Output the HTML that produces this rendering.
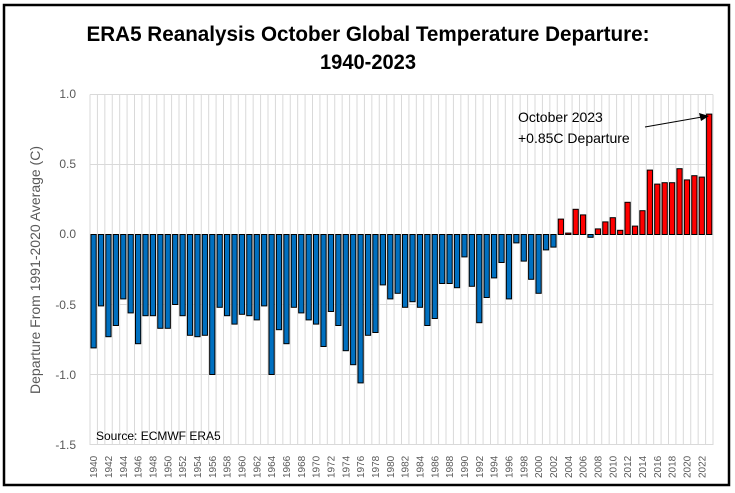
<!DOCTYPE html>
<html><head><meta charset="utf-8"><style>
html,body{margin:0;padding:0;background:#fff;}
svg{display:block;}
</style></head><body>
<svg id="c" width="735" height="493" xmlns="http://www.w3.org/2000/svg">
<rect x="0" y="0" width="735" height="493" fill="#fff"/>
<rect x="4" y="5" width="725" height="480" fill="none" stroke="#000" stroke-width="2.5"/>
<text x="368" y="41" text-anchor="middle" font-family="Liberation Sans Narrow, Liberation Sans, sans-serif" font-weight="bold" font-size="21" textLength="563" lengthAdjust="spacingAndGlyphs">ERA5 Reanalysis October Global Temperature Departure:</text>
<text x="368" y="69" text-anchor="middle" font-family="Liberation Sans Narrow, Liberation Sans, sans-serif" font-weight="bold" font-size="21" textLength="96" lengthAdjust="spacingAndGlyphs">1940-2023</text>
<g id="grid"></g>
<g id="bars"></g>
<g font-family="Liberation Sans, sans-serif" font-size="12" fill="#595959" text-anchor="end">
<text x="76" y="98">1.0</text>
<text x="76" y="168">0.5</text>
<text x="76" y="238">0.0</text>
<text x="76" y="309">-0.5</text>
<text x="76" y="379">-1.0</text>
<text x="76" y="449">-1.5</text>
</g>
<text transform="translate(40,270) rotate(-90)" text-anchor="middle" font-family="Liberation Sans, sans-serif" font-size="14" fill="#595959">Departure From 1991-2020 Average (C)</text>
<text x="96" y="440" font-family="Liberation Sans, sans-serif" font-size="12" fill="#000">Source: ECMWF ERA5</text>
<text x="518" y="122" font-family="Liberation Sans, sans-serif" font-size="14" fill="#000">October 2023</text>
<text x="518" y="143" font-family="Liberation Sans, sans-serif" font-size="14" fill="#000">+0.85C Departure</text>
<line x1="645" y1="127" x2="702" y2="117" stroke="#000" stroke-width="1"/>
<polygon points="709,116 699,113 701,121" fill="#000"/>
<g id="years" font-family="Liberation Sans, sans-serif" font-size="10" fill="#595959"></g>
</svg>
<script>
(function(){
var v=[-0.81,-0.51,-0.73,-0.65,-0.46,-0.56,-0.78,-0.58,-0.58,-0.67,-0.67,-0.50,-0.58,-0.72,-0.73,-0.72,-1.0,-0.52,-0.58,-0.64,-0.57,-0.58,-0.61,-0.51,-1.0,-0.68,-0.78,-0.52,-0.56,-0.61,-0.64,-0.80,-0.55,-0.65,-0.83,-0.93,-1.06,-0.72,-0.70,-0.36,-0.46,-0.42,-0.52,-0.48,-0.52,-0.65,-0.60,-0.35,-0.35,-0.38,-0.16,-0.37,-0.63,-0.45,-0.31,-0.20,-0.46,-0.06,-0.19,-0.32,-0.42,-0.11,-0.09,0.11,0.01,0.18,0.14,-0.02,0.04,0.09,0.12,0.03,0.23,0.06,0.17,0.46,0.36,0.37,0.37,0.47,0.39,0.42,0.41,0.86];
var ns="http://www.w3.org/2000/svg",L=90,R=713,W=(R-L)/84,Z=234.5,S=140;
function el(t,a,p){var e=document.createElementNS(ns,t);for(var k in a)e.setAttribute(k,a[k]);p.appendChild(e);return e;}
var g=document.getElementById('grid'),b=document.getElementById('bars'),yg=document.getElementById('years');
for(var i=0;i<=84;i++){var x=L+i*W;el('line',{x1:x,y1:94.5,x2:x,y2:445,stroke:'#d9d9d9','stroke-width':1},g);}
for(var j=0;j<6;j++){var yy=94.5+j*70;el('line',{x1:L,y1:yy,x2:R,y2:yy,stroke:'#d9d9d9','stroke-width':1},g);}
for(var i=0;i<84;i++){var x=L+i*W+1,h=Math.abs(v[i])*S,ty=v[i]>0?Z-h:Z;
el('rect',{x:x,y:ty,width:W-2.2,height:Math.max(h,0.5),fill:v[i]>0?'#ff0000':'#0070c0',stroke:'#000','stroke-width':1},b);
if(i%2==0){var t=el('text',{transform:'translate('+(L+i*W+W/2+3.5)+',478) rotate(-90)'},yg);t.textContent=1940+i;}}
})();
</script>
</body></html>
